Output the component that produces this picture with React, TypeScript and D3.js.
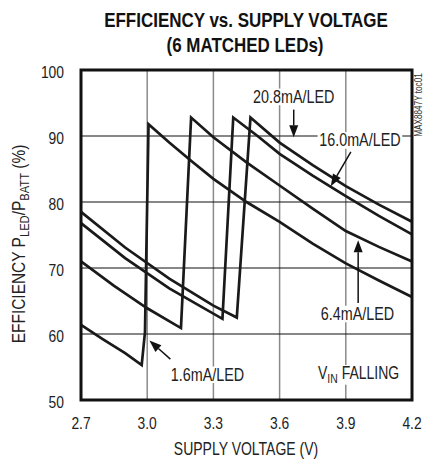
import React, { useEffect, useRef } from 'react';
import * as d3 from 'd3';

// Efficiency (%) vs supply voltage (V). VIN falling.
const curve1p6: [number, number][] = [
  [2.7, 61.4], [2.8, 59.2], [2.9, 57.1], [2.975, 55.3], [2.99, 60.3], [3.006, 91.8],
  [3.1, 89.0], [3.2, 86.2], [3.3, 83.5], [3.45, 80.0], [3.6, 77.0], [3.75, 73.7],
  [3.9, 70.7], [4.05, 68.1], [4.2, 65.6],
];
const curve6p4: [number, number][] = [
  [2.7, 71.0], [2.85, 67.3], [3.0, 63.9], [3.153, 60.9], [3.199, 92.8],
  [3.3, 89.8], [3.45, 86.0], [3.6, 82.5], [3.75, 79.0], [3.9, 75.6], [4.05, 73.2], [4.2, 71.0],
];
const curve16p0: [number, number][] = [
  [2.7, 76.8], [2.9, 71.5], [3.1, 66.9], [3.341, 62.3], [3.39, 92.8],
  [3.5, 90.0], [3.6, 87.3], [3.75, 84.0], [3.9, 80.9], [4.05, 77.9], [4.2, 75.1],
];
const curve20p8: [number, number][] = [
  [2.7, 78.5], [2.9, 73.1], [3.1, 68.4], [3.3, 64.3], [3.406, 62.5], [3.468, 92.8],
  [3.6, 89.0], [3.75, 85.6], [3.9, 82.4], [4.05, 79.6], [4.2, 77.0],
];
const curves = [curve1p6, curve6p4, curve16p0, curve20p8];

const xTicks = [2.7, 3.0, 3.3, 3.6, 3.9, 4.2];
const yTicks = [50, 60, 70, 80, 90, 100];

// labels: text, position (V, %), arrow start and tip (V, %)
const labels = [
  { text: '20.8mA/LED', at: [3.664, 96.0], from: [3.664, 94.0], to: [3.664, 89.8] },
  { text: '16.0mA/LED', at: [3.964, 89.4], from: [3.923, 87.6], to: [3.832, 82.4] },
  { text: '6.4mA/LED', at: [3.953, 63.1], from: [3.956, 64.7], to: [3.956, 74.2] },
  { text: '1.6mA/LED', at: [3.273, 53.9], from: [3.105, 56.2], to: [3.01, 59.0] },
];

const FONT = "'Liberation Sans', Arial, sans-serif";
const NARROW = 0.82; // no condensed face installed, squeeze horizontally

type Sel = d3.Selection<any, unknown, null, undefined>;

// text drawn in its own group so it can be squeezed like a condensed face
const narrowText = (parent: Sel, tx: number, ty: number, size: number, anchor: string, rotate = 0, sx = NARROW) => {
  const g = parent.append('g')
    .attr('transform', `translate(${tx},${ty})${rotate ? ` rotate(${rotate})` : ''} scale(${sx},1)`);
  const t = g.append('text')
    .attr('x', 0).attr('y', 0)
    .attr('text-anchor', anchor)
    .attr('font-family', FONT).attr('font-size', size).attr('fill', '#222');
  return { g, t };
};

const addBackground = (g: Sel, t: Sel) => {
  const b = (t.node() as SVGTextElement).getBBox();
  g.insert('rect', () => t.node())
    .attr('x', b.x - 2).attr('y', b.y + 1)
    .attr('width', b.width + 4).attr('height', b.height - 2)
    .attr('fill', '#fff');
};

const App: React.FC = () => {
  const svgRef = useRef<SVGSVGElement>(null);

  useEffect(() => {
    if (!svgRef.current) return;
    const svg = d3.select(svgRef.current);
    svg.selectAll('*').remove();

    const x = d3.scaleLinear().domain([2.7, 4.2]).range([81, 412]);
    const y = d3.scaleLinear().domain([50, 100]).range([400, 70]);

    // title
    narrowText(svg, 246, 26.7, 19.5, 'middle', 0, 0.87).t
      .attr('font-weight', 'bold').attr('fill', '#111')
      .text('EFFICIENCY vs. SUPPLY VOLTAGE');
    narrowText(svg, 245, 51.5, 19.5, 'middle', 0, 0.87).t
      .attr('font-weight', 'bold').attr('fill', '#111')
      .text('(6 MATCHED LEDs)');

    // grid
    svg.append('g').selectAll('line')
      .data(xTicks.slice(1, -1))
      .enter().append('line')
      .attr('x1', d => x(d)).attr('x2', d => x(d))
      .attr('y1', y(100)).attr('y2', y(50))
      .attr('stroke', '#8a8a8a').attr('stroke-width', 1.5);
    svg.append('g').selectAll('line')
      .data(yTicks.slice(1, -1))
      .enter().append('line')
      .attr('x1', x(2.7)).attr('x2', x(4.2))
      .attr('y1', d => y(d)).attr('y2', d => y(d))
      .attr('stroke', '#111').attr('stroke-width', 1.1);

    // curves
    const line = d3.line<[number, number]>()
      .x(d => x(d[0]))
      .y(d => y(d[1]));
    svg.append('g').selectAll('path')
      .data(curves)
      .enter().append('path')
      .attr('d', d => line(d))
      .attr('fill', 'none')
      .attr('stroke', '#1a1a1a')
      .attr('stroke-width', 2.7)
      .attr('stroke-linejoin', 'miter');

    // frame
    svg.append('rect')
      .attr('x', x(2.7)).attr('y', y(100))
      .attr('width', x(4.2) - x(2.7)).attr('height', y(50) - y(100))
      .attr('fill', 'none').attr('stroke', '#111').attr('stroke-width', 3);

    // tick labels
    xTicks.forEach(d => {
      narrowText(svg, x(d), y(50) + 28.5, 16.5, 'middle', 0, 0.84).t.text(d.toFixed(1));
    });
    yTicks.forEach(d => {
      narrowText(svg, 64, y(d) + 8, 16.5, 'end', 0, 0.84).t.text(String(d));
    });

    // axis titles
    narrowText(svg, 246, 455, 17.5, 'middle', 0, 0.8).t.text('SUPPLY VOLTAGE (V)');

    const yl = narrowText(svg, 25, 244, 18, 'middle', -90, 0.86).t;
    yl.append('tspan').text('EFFICIENCY P');
    yl.append('tspan').attr('font-size', 13).attr('dy', 4).text('LED');
    yl.append('tspan').attr('dy', -4).text('/P');
    yl.append('tspan').attr('font-size', 13).attr('dy', 4).text('BATT');
    yl.append('tspan').attr('dy', -4).text(' (%)');

    // part number
    narrowText(svg, 421.5, 105, 10.5, 'middle', -90, 0.78).t
      .attr('fill', '#333').text('MAX8847Y toc01');

    // annotations
    const ann = svg.append('g');
    labels.forEach(l => {
      const { g, t } = narrowText(ann, x(l.at[0]), y(l.at[1]) + 6.5, 17.5, 'middle');
      t.text(l.text);
      addBackground(g, t);

      const x1 = x(l.from[0]), y1 = y(l.from[1]);
      const x2 = x(l.to[0]), y2 = y(l.to[1]);
      const ang = Math.atan2(y2 - y1, x2 - x1);
      const len = 12, hw = 4.5;
      const bx = x2 - len * Math.cos(ang), by = y2 - len * Math.sin(ang);
      ann.append('line')
        .attr('x1', x1).attr('y1', y1).attr('x2', bx).attr('y2', by)
        .attr('stroke', '#111').attr('stroke-width', 1.5);
      ann.append('path')
        .attr('d', `M${x2},${y2}L${bx + hw * Math.sin(ang)},${by - hw * Math.cos(ang)}L${bx - hw * Math.sin(ang)},${by + hw * Math.cos(ang)}Z`)
        .attr('fill', '#111');
    });

    // VIN FALLING
    const vin = narrowText(ann, x(3.958), y(54.1) + 6.5, 17.5, 'middle', 0, 0.8);
    vin.t.append('tspan').text('V');
    vin.t.append('tspan').attr('font-size', 13).attr('dy', 4).text('IN');
    vin.t.append('tspan').attr('dy', -4).text(' FALLING');
    addBackground(vin.g, vin.t);
  }, []);

  return (
    <svg
      ref={svgRef}
      width={424}
      height={464}
      style={{ position: 'absolute', left: 0, top: 0, background: '#fff' }}
    />
  );
};

export default App;
